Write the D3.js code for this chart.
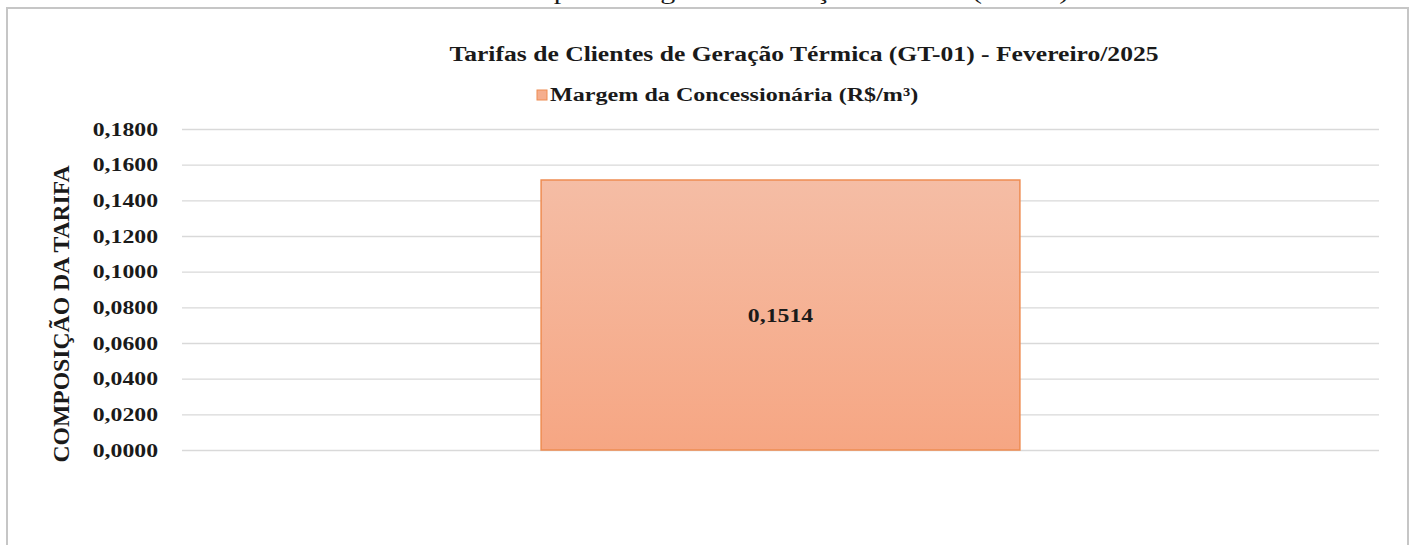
<!DOCTYPE html>
<html>
<head>
<meta charset="utf-8">
<script src="https://cdn.jsdelivr.net/npm/d3@7"></script>
<style>
  body { margin: 0; background: #fff; }
  svg text { font-family: "Liberation Serif", "Times New Roman", serif; fill: #1a1a1a; }
  .grid line { stroke: #d9d9d9; stroke-width: 1.3; }
  .grid path { display: none; }
  .y.axis path, .y.axis line { display: none; }
  .y.axis text { font-size: 19px; font-weight: bold; }
</style>
</head>
<body>
<div id="chartArea"></div>
<script>
// chart data
let categories = ['GT-01'];
let seriesName = 'Margem da Concessionária (R$/m³)';
let margemValues = [0.1514];
let yTicks = [0, 0.02, 0.04, 0.06, 0.08, 0.10, 0.12, 0.14, 0.16, 0.18];

let chartTitle = 'Tarifas de Clientes de Geração Térmica (GT-01) - Fevereiro/2025';
let captionText = 'Gráfico 7 - Tarifas para o segmento Geração Térmica (GT-01)';
let yTitle = 'COMPOSIÇÃO DA TARIFA';

// the source text is drawn wider than normal Times glyphs
let stretch = 1.25;

function drawGraph() {

    let width = 1413, height = 545;

    let margins = { top: 129, right: 34, bottom: 95, left: 182 };
    let plotW = width - margins.left - margins.right,
        plotH = height - margins.top - margins.bottom;

    let svg = d3.select('#chartArea')
        .append('svg')
            .attr('width', width)
            .attr('height', height);

    // outer chart border
    svg.append('rect')
        .attr('x', 7).attr('y', 8)
        .attr('width', 1401).attr('height', 545)
        .attr('fill', '#fff')
        .attr('stroke', '#c6c6c6')
        .attr('stroke-width', 2);

    // caption above the chart (cut off by the top edge like the source)
    svg.append('text')
        .attr('transform', 'translate(697, -1) scale(' + stretch + ',1)')
        .attr('text-anchor', 'middle')
        .style('font-size', '24px')
        .text(captionText);

    let defs = svg.append('defs');
    let grad = defs.append('linearGradient')
        .attr('id', 'barFill')
        .attr('x1', 0).attr('y1', 0).attr('x2', 0).attr('y2', 1);
    grad.append('stop').attr('offset', '0%').attr('stop-color', '#f5bda5');
    grad.append('stop').attr('offset', '100%').attr('stop-color', '#f6a683');

    let chart = svg.append('g')
        .attr('transform', 'translate(' + margins.left + ',' + margins.top + ')');

    let xScale = d3.scaleBand()
        .domain(categories)
        .range([0, plotW])
        .paddingInner(0.6)
        .paddingOuter(0.3);

    let yScale = d3.scaleLinear()
        .domain([0, 0.18])
        .range([plotH, 0]);

    let fmt = d => d3.format('.4f')(d).replace('.', ',');

    // gridlines
    chart.append('g')
        .attr('class', 'grid')
        .call(d3.axisLeft(yScale)
            .tickValues(yTicks)
            .tickSize(-plotW)
            .tickFormat(''));

    // y axis labels
    let yAxis = chart.append('g')
        .attr('class', 'y axis')
        .call(d3.axisLeft(yScale)
            .tickValues(yTicks)
            .tickSize(0)
            .tickPadding(24)
            .tickFormat(fmt));
    yAxis.selectAll('text')
        .attr('x', -24 / stretch)
        .attr('transform', 'scale(' + stretch + ',1)');

    // bars
    chart.selectAll('.bar')
        .data(margemValues)
        .enter().append('rect')
            .attr('class', 'bar')
            .attr('x', (d, i) => xScale(categories[i]))
            .attr('y', d => yScale(d))
            .attr('width', xScale.bandwidth())
            .attr('height', d => plotH - yScale(d))
            .attr('fill', 'url(#barFill)')
            .attr('stroke', '#ee8c52')
            .attr('stroke-width', 1.5);

    // data labels
    chart.selectAll('.label')
        .data(margemValues)
        .enter().append('text')
            .attr('class', 'label')
            .attr('transform', (d, i) => 'translate(' + (xScale(categories[i]) + xScale.bandwidth() / 2) + ',' +
                (yScale(d / 2) + 7) + ') scale(' + stretch + ',1)')
            .attr('text-anchor', 'middle')
            .style('font-size', '19px')
            .style('font-weight', 'bold')
            .text(d => fmt(d));

    // title
    svg.append('text')
        .attr('transform', 'translate(804, 61) scale(1.22,1)')
        .attr('text-anchor', 'middle')
        .style('font-size', '21px')
        .style('font-weight', 'bold')
        .text(chartTitle);

    // legend
    let legend = svg.append('g').attr('transform', 'translate(537, 90)');
    legend.append('rect')
        .attr('width', 10).attr('height', 10)
        .attr('fill', '#f5ae8e')
        .attr('stroke', '#ee8c52')
        .attr('stroke-width', 1);
    legend.append('text')
        .attr('transform', 'translate(13, 11) scale(1.27,1)')
        .style('font-size', '19px')
        .style('font-weight', 'bold')
        .text(seriesName);

    // y axis title
    svg.append('text')
        .attr('transform', 'translate(69, 314) rotate(-90) scale(1.03,1)')
        .attr('text-anchor', 'middle')
        .style('font-size', '23px')
        .style('font-weight', 'bold')
        .text(yTitle);
}

drawGraph();
</script>
</body>
</html>
